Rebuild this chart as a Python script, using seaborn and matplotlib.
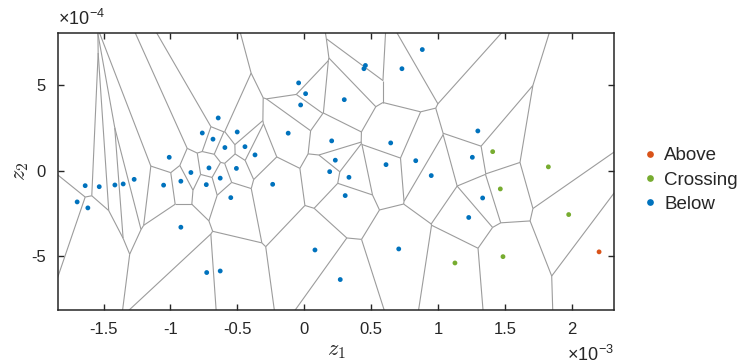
import numpy as np
import pandas as pd
import matplotlib
matplotlib.use('Agg')
import matplotlib.pyplot as plt
import matplotlib.tri as mtri
from matplotlib.collections import LineCollection
import seaborn as sns

# z1 in units of 1e-3, z2 in units of 1e-4
below_z1 = [-0.643, -0.762, -0.501, -0.682, -0.593, -0.443, -1.009, -0.847, -0.712, -0.507,
            -1.271, -0.628, -1.637, -1.532, -1.415, -1.353, -1.051, -0.922, -0.732, -0.549,
            -1.697, -1.617, -0.922, -0.729, -0.628, 0.882, 0.457, 0.446, 0.730, -0.042,
            0.010, -0.027, 0.299, -0.120, 1.297, -0.368, 0.646, 0.205, 1.256, 0.232,
            0.190, 0.334, 0.611, 0.833, 0.949, -0.236, 0.306, 1.229, 0.080, 0.706,
            0.269, 1.333]
below_z2 = [3.08, 2.20, 2.26, 1.84, 1.35, 1.40, 0.78, -0.11, 0.16, 0.13,
            -0.51, -0.44, -0.88, -0.94, -0.84, -0.78, -0.85, -0.62, -0.82, -1.58,
            -1.83, -2.18, -3.31, -5.96, -5.87, 7.08, 6.15, 5.96, 5.96, 5.13,
            4.50, 3.84, 4.15, 2.19, 2.32, 0.92, 1.62, 1.74, 0.78, 0.61,
            -0.06, -0.39, 0.35, 0.58, -0.29, -0.80, -1.46, -2.74, -4.64, -4.58,
            -6.37, -1.60]
crossing_z1 = [1.408, 1.824, 1.465, 1.976, 1.485, 1.126]
crossing_z2 = [1.11, 0.22, -1.07, -2.57, -5.03, -5.40]
above_z1 = [2.203]
above_z2 = [-4.75]

groups = ['Above', 'Crossing', 'Below']
colors = ['#D95319', '#77AC30', '#0072BD']

df = pd.concat([
    pd.DataFrame({'z1': above_z1, 'z2': above_z2, 'kind': 'Above'}),
    pd.DataFrame({'z1': crossing_z1, 'z2': crossing_z2, 'kind': 'Crossing'}),
    pd.DataFrame({'z1': below_z1, 'z2': below_z2, 'kind': 'Below'}),
], ignore_index=True)


def voronoi_segments(px, py, far=50.0):
    # Voronoi edges from the Delaunay triangulation (circumcentres of neighbours)
    pts = np.column_stack([px, py])
    tri = mtri.Triangulation(px, py)
    T = tri.triangles
    a, b, c = pts[T[:, 0]], pts[T[:, 1]], pts[T[:, 2]]
    sa, sb, sc = (a ** 2).sum(1), (b ** 2).sum(1), (c ** 2).sum(1)
    d = 2 * (a[:, 0] * (b[:, 1] - c[:, 1]) + b[:, 0] * (c[:, 1] - a[:, 1]) + c[:, 0] * (a[:, 1] - b[:, 1]))
    ux = (sa * (b[:, 1] - c[:, 1]) + sb * (c[:, 1] - a[:, 1]) + sc * (a[:, 1] - b[:, 1])) / d
    uy = (sa * (c[:, 0] - b[:, 0]) + sb * (a[:, 0] - c[:, 0]) + sc * (b[:, 0] - a[:, 0])) / d
    cc = np.column_stack([ux, uy])
    segs = []
    for t in range(len(T)):
        for j in range(3):
            nb = tri.neighbors[t, j]
            p, q = pts[T[t, j]], pts[T[t, (j + 1) % 3]]
            if nb >= 0:
                if t < nb:
                    segs.append([cc[t], cc[nb]])
            else:
                r = pts[T[t, (j + 2) % 3]]
                e = q - p
                n = np.array([-e[1], e[0]]) / np.hypot(e[0], e[1])
                if np.dot((p + q) / 2 - r, n) < 0:
                    n = -n
                segs.append([cc[t], cc[t] + n * far])
    return np.array(segs)


# compute in common units (1e-3), then go back to plotting units
segs = voronoi_segments(df['z1'].values, df['z2'].values / 10.0)
segs[:, :, 1] *= 10.0

sns.set_style('ticks')
plt.rcParams['font.family'] = ['Liberation Sans', 'DejaVu Sans']
plt.rcParams['mathtext.fontset'] = 'cm'
plt.rcParams['axes.unicode_minus'] = False

fig = plt.figure(figsize=(7.39, 3.64), dpi=100)
ax = fig.add_axes([0.0785, 0.1484, 0.7528, 0.7596])

ax.add_collection(LineCollection(segs, colors='#9c9c9c', linewidths=0.8, zorder=1))
sns.scatterplot(data=df, x='z1', y='z2', hue='kind', hue_order=groups,
                palette=colors, s=12, edgecolor='none', linewidth=0, ax=ax, zorder=3)

ax.set_xlim(-1.84, 2.317)
ax.set_ylim(-8.15, 8.02)
xt = [-1.5, -1, -0.5, 0, 0.5, 1, 1.5, 2]
yt = [-5, 0, 5]
ax.set_xticks(xt, labels=[f'{v:g}' for v in xt])
ax.set_yticks(yt, labels=[f'{v:g}' for v in yt])
ax.tick_params(direction='in', length=4, width=1, top=True, right=True,
               labelsize=12, colors='#262626', pad=9)
for s in ax.spines.values():
    s.set_color('#262626')
    s.set_linewidth(1.1)

ax.set_xlabel('$z_1$', fontsize=16, color='#262626', labelpad=2)
ax.set_ylabel('$z_2$', fontsize=16, color='#262626', labelpad=0)
ax.text(0.0, 1.015, r'×10$^{\mathregular{-4}}$', transform=ax.transAxes,
        ha='left', va='bottom', fontsize=13, color='#262626')
ax.text(1.0, -0.125, r'×10$^{\mathregular{-3}}$', transform=ax.transAxes,
        ha='right', va='top', fontsize=13, color='#262626')

handles, labels = ax.get_legend_handles_labels()
ax.get_legend().remove()
fig.legend(handles, labels, loc='center left', bbox_to_anchor=(0.842, 0.505),
           frameon=False, fontsize=13.5, handletextpad=0.15, labelspacing=0.38,
           handlelength=1.2, markerscale=1.4, labelcolor='#262626')

fig.savefig('out.png', dpi=100)
